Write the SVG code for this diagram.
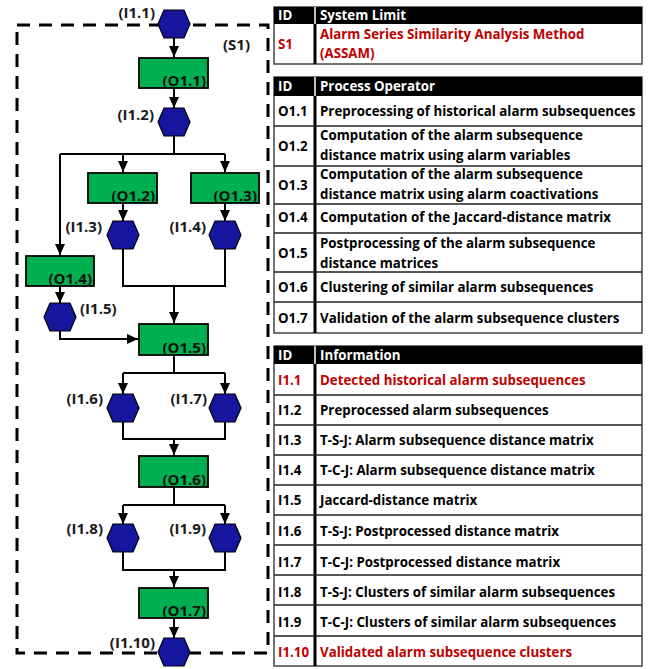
<svg xmlns="http://www.w3.org/2000/svg" width="653" height="669" viewBox="0 0 653 669">
<defs>
<marker id="ah" markerUnits="userSpaceOnUse" markerWidth="12" markerHeight="10" refX="11" refY="5" orient="auto"><path d="M0,0 L11,5 L0,10 Z" fill="#000"/></marker>
<polygon id="hex" points="-16,0 -10,-14 10,-14 16,0 10,14 -10,14" fill="#15159e" stroke="#000" stroke-width="1.2"/>
</defs>
<style>
.op{fill:#00b050;stroke:#000;stroke-width:1.8}
.ol{font-family:"Open Sans",Lato,sans-serif;font-weight:bold;font-size:15px;fill:#111;text-anchor:end}
.lb{font-family:"Open Sans",Lato,sans-serif;font-weight:bold;font-size:15px;fill:#1a1a1a}
.e{text-anchor:end}
.c{fill:none;stroke:#000;stroke-width:2}
.t{font-family:"Open Sans",Lato,sans-serif;font-weight:bold;font-size:13.3px;fill:#000}
.r{fill:#c00000}
.w{fill:#fff}
.hd{fill:#000}
.bd{fill:#fff;stroke:#444;stroke-width:1.5}
.rl{stroke:#222;stroke-width:1.3}
.cd{stroke:#000;stroke-width:3}
</style>
<rect width="653" height="669" fill="#fff"/>
<!-- system limit -->
<g id="S1">
<rect x="17" y="25" width="251" height="628" fill="none" stroke="#000" stroke-width="3" stroke-dasharray="13 9"/>
<text class="lb" x="223" y="50">(S1)</text>
</g>
<g id="connectors">
<path class="c" d="M174,38 V57" marker-end="url(#ah)"/>
<path class="c" d="M174,88 V108" marker-end="url(#ah)"/>
<path class="c" d="M174,136 V154 M60,154 H225"/>
<path class="c" d="M123,154 V172" marker-end="url(#ah)"/>
<path class="c" d="M225,154 V172" marker-end="url(#ah)"/>
<path class="c" d="M60,154 V255" marker-end="url(#ah)"/>
<path class="c" d="M123,203 V221" marker-end="url(#ah)"/>
<path class="c" d="M225,203 V221" marker-end="url(#ah)"/>
<path class="c" d="M60,286 V303" marker-end="url(#ah)"/>
<path class="c" d="M123,249 V286 H225 V249"/>
<path class="c" d="M174,286 V323" marker-end="url(#ah)"/>
<path class="c" d="M60,331 V339 H138" marker-end="url(#ah)"/>
<path class="c" d="M174,355 V373 M123,373 H225"/>
<path class="c" d="M123,373 V394" marker-end="url(#ah)"/>
<path class="c" d="M225,373 V394" marker-end="url(#ah)"/>
<path class="c" d="M123,422 V439 H225 V422"/>
<path class="c" d="M174,439 V455" marker-end="url(#ah)"/>
<path class="c" d="M174,487 V505 M123,505 H225"/>
<path class="c" d="M123,505 V524" marker-end="url(#ah)"/>
<path class="c" d="M225,505 V524" marker-end="url(#ah)"/>
<path class="c" d="M123,552 V570 H225 V552"/>
<path class="c" d="M174,570 V587" marker-end="url(#ah)"/>
<path class="c" d="M174,618 V638" marker-end="url(#ah)"/>
</g>
<!-- operators -->
<g id="O1.1"><rect class="op" x="139" y="58" width="69" height="30"/><text class="ol" x="206" y="86">(O1.1)</text></g>
<g id="O1.2"><rect class="op" x="88" y="173" width="69" height="30"/><text class="ol" x="155" y="201">(O1.2)</text></g>
<g id="O1.3"><rect class="op" x="191" y="173" width="68" height="30"/><text class="ol" x="257" y="201">(O1.3)</text></g>
<g id="O1.4"><rect class="op" x="26" y="256" width="68" height="30"/><text class="ol" x="92" y="284">(O1.4)</text></g>
<g id="O1.5"><rect class="op" x="139" y="324" width="69" height="31"/><text class="ol" x="206" y="353">(O1.5)</text></g>
<g id="O1.6"><rect class="op" x="139" y="456" width="69" height="31"/><text class="ol" x="206" y="485">(O1.6)</text></g>
<g id="O1.7"><rect class="op" x="139" y="588" width="69" height="30"/><text class="ol" x="206" y="616">(O1.7)</text></g>
<!-- information -->
<g id="I1.1"><use href="#hex" x="174" y="24"/><text class="lb e" x="155" y="18">(I1.1)</text></g>
<g id="I1.2"><use href="#hex" x="174" y="122"/><text class="lb e" x="154" y="120">(I1.2)</text></g>
<g id="I1.3"><use href="#hex" x="123" y="235"/><text class="lb e" x="102" y="232">(I1.3)</text></g>
<g id="I1.4"><use href="#hex" x="225" y="235"/><text class="lb e" x="206" y="232">(I1.4)</text></g>
<g id="I1.5"><use href="#hex" x="60" y="317"/><text class="lb" x="80" y="314">(I1.5)</text></g>
<g id="I1.6"><use href="#hex" x="123" y="408"/><text class="lb e" x="103" y="404">(I1.6)</text></g>
<g id="I1.7"><use href="#hex" x="225" y="408"/><text class="lb e" x="207" y="404">(I1.7)</text></g>
<g id="I1.8"><use href="#hex" x="123" y="538"/><text class="lb e" x="103" y="534">(I1.8)</text></g>
<g id="I1.9"><use href="#hex" x="225" y="538"/><text class="lb e" x="206" y="534">(I1.9)</text></g>
<g id="I1.10"><use href="#hex" x="174" y="652"/><text class="lb e" x="155" y="648">(I1.10)</text></g>
<!-- table 1 -->
<g id="table-system">
<rect class="bd" x="274" y="7" width="368" height="57"/>
<rect class="hd" x="274" y="7" width="368" height="17"/>
<line x1="315" y1="7" x2="315" y2="24" stroke="#fff" stroke-width="1.5"/>
<line class="cd" x1="315" y1="24" x2="315" y2="64"/>
<text class="t w" x="278" y="20">ID</text><text class="t w" x="320" y="20">System Limit</text>
<text class="t r" x="278" y="49">S1</text>
<text class="t r" x="320" y="39">Alarm Series Similarity Analysis Method</text>
<text class="t r" x="320" y="58">(ASSAM)</text>
</g>
<!-- table 2 -->
<g id="table-operator">
<rect class="bd" x="274" y="77" width="368" height="256"/>
<rect class="hd" x="274" y="77" width="368" height="19"/>
<line x1="315" y1="77" x2="315" y2="96" stroke="#fff" stroke-width="1.5"/>
<line class="cd" x1="315" y1="96" x2="315" y2="333"/>
<path class="rl" d="M274,126 H642 M274,166 H642 M274,204 H642 M274,233 H642 M274,272 H642 M274,302 H642"/>
<text class="t w" x="278" y="91">ID</text><text class="t w" x="320" y="91">Process Operator</text>
<text class="t" x="278" y="116">O1.1</text><text class="t" x="320" y="116">Preprocessing of historical alarm subsequences</text>
<text class="t" x="278" y="151">O1.2</text><text class="t" x="320" y="140">Computation of the alarm subsequence</text><text class="t" x="320" y="160">distance matrix using alarm variables</text>
<text class="t" x="278" y="190">O1.3</text><text class="t" x="320" y="179">Computation of the alarm subsequence</text><text class="t" x="320" y="199">distance matrix using alarm coactivations</text>
<text class="t" x="278" y="222">O1.4</text><text class="t" x="320" y="222">Computation of the Jaccard-distance matrix</text>
<text class="t" x="278" y="258">O1.5</text><text class="t" x="320" y="248">Postprocessing of the alarm subsequence</text><text class="t" x="320" y="268">distance matrices</text>
<text class="t" x="278" y="292">O1.6</text><text class="t" x="320" y="292">Clustering of similar alarm subsequences</text>
<text class="t" x="278" y="323">O1.7</text><text class="t" x="320" y="323">Validation of the alarm subsequence clusters</text>
</g>
<!-- table 3 -->
<g id="table-information">
<rect class="bd" x="274" y="346" width="368" height="320"/>
<rect class="hd" x="274" y="346" width="368" height="18"/>
<line x1="315" y1="346" x2="315" y2="364" stroke="#fff" stroke-width="1.5"/>
<line class="cd" x1="315" y1="364" x2="315" y2="666"/>
<path class="rl" d="M274,395 H642 M274,425 H642 M274,455 H642 M274,485 H642 M274,515 H642 M274,545 H642 M274,575 H642 M274,605 H642 M274,636 H642"/>
<text class="t w" x="278" y="360">ID</text><text class="t w" x="320" y="360">Information</text>
<text class="t r" x="278" y="385">I1.1</text><text class="t r" x="320" y="385">Detected historical alarm subsequences</text>
<text class="t" x="278" y="415">I1.2</text><text class="t" x="320" y="415">Preprocessed alarm subsequences</text>
<text class="t" x="278" y="445">I1.3</text><text class="t" x="320" y="445">T-S-J: Alarm subsequence distance matrix</text>
<text class="t" x="278" y="475">I1.4</text><text class="t" x="320" y="475">T-C-J: Alarm subsequence distance matrix</text>
<text class="t" x="278" y="505">I1.5</text><text class="t" x="320" y="505">Jaccard-distance matrix</text>
<text class="t" x="278" y="536">I1.6</text><text class="t" x="320" y="536">T-S-J: Postprocessed distance matrix</text>
<text class="t" x="278" y="567">I1.7</text><text class="t" x="320" y="567">T-C-J: Postprocessed distance matrix</text>
<text class="t" x="278" y="597">I1.8</text><text class="t" x="320" y="597">T-S-J: Clusters of similar alarm subsequences</text>
<text class="t" x="278" y="627">I1.9</text><text class="t" x="320" y="627">T-C-J: Clusters of similar alarm subsequences</text>
<text class="t r" x="278" y="657">I1.10</text><text class="t r" x="320" y="657">Validated alarm subsequence clusters</text>
</g>
</svg>
